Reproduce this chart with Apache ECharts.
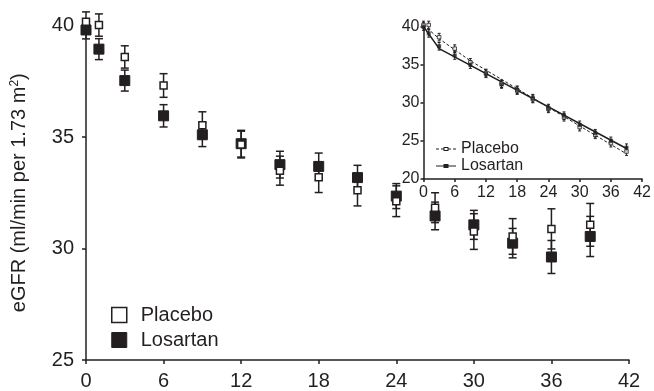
<!DOCTYPE html>
<html>
<head>
<meta charset="utf-8">
<script src="https://cdn.jsdelivr.net/npm/echarts@6/dist/echarts.min.js"></script>
<style>html,body{margin:0;padding:0;background:#fff}#c{width:654px;height:391px}</style>
</head>
<body>
<div id="c"></div>
<script>
// ---- data ----
const months = [0, 1, 3, 6, 9, 12, 15, 18, 21, 24, 27, 30, 33, 36, 39];
const placeboMean = [40.17, 40.02, 38.59, 37.31, 35.53, 34.66, 33.49, 33.19, 32.61, 32.12, 31.83, 30.76, 30.54, 30.88, 31.06];
const placeboErr  = [0.44, 0.5, 0.5, 0.53, 0.6, 0.6, 0.65, 0.68, 0.7, 0.69, 0.67, 0.8, 0.8, 0.9, 0.96];
const losartanMean = [39.8, 38.94, 37.53, 35.95, 35.1, 34.7, 33.76, 33.68, 33.18, 32.35, 31.46, 31.06, 30.24, 29.62, 30.54];
const losartanErr  = [0.4, 0.47, 0.47, 0.5, 0.53, 0.6, 0.6, 0.6, 0.55, 0.56, 0.62, 0.65, 0.66, 0.74, 0.9];

// inset
const insetPlacebo  = [40.2, 40.2, 38.6, 37.1, 35.3, 33.9, 32.5, 31.6, 30.5, 29.2, 28.1, 26.8, 25.8, 24.7, 23.6];
const insetLosartan = [40.0, 39.1, 37.4, 36.2, 35.0, 33.8, 32.4, 31.7, 30.6, 29.3, 28.3, 27.1, 26.0, 25.0, 24.1];
const insetErr = 0.5;
const insetPlaceboFit  = [[0, 40.2], [3, 38.4], [9, 35.5], [39, 23.3]];
const insetLosartanFit = [[0, 40.0], [3, 37.1], [39, 24.0]];

const xTicks = [0, 6, 12, 18, 24, 30, 36, 42];
const mainYTicks = [25, 30, 35, 40];
const insetYTicks = [20, 25, 30, 35, 40];

const INK = '#231f20';
const FONT = 'Liberation Sans, Arial, Helvetica, sans-serif';

function pts(xs, ys) { return xs.map((x, i) => [x, ys[i]]); }
function errData(xs, ys, es) { return xs.map((x, i) => [x, ys[i] - (Array.isArray(es) ? es[i] : es), ys[i] + (Array.isArray(es) ? es[i] : es)]); }

function errSeries(data, xi, yi, cap, lw, z) {
  return {
    type: 'custom', xAxisIndex: xi, yAxisIndex: yi, z: z, silent: true, clip: false,
    data: data,
    renderItem: function (params, api) {
      const x = api.value(0);
      const lo = api.coord([x, api.value(1)]);
      const hi = api.coord([x, api.value(2)]);
      const st = { stroke: INK, lineWidth: lw };
      return {
        type: 'group',
        children: [
          { type: 'line', shape: { x1: lo[0], y1: lo[1], x2: hi[0], y2: hi[1] }, style: st },
          { type: 'line', shape: { x1: lo[0] - cap, y1: lo[1], x2: lo[0] + cap, y2: lo[1] }, style: st },
          { type: 'line', shape: { x1: hi[0] - cap, y1: hi[1], x2: hi[0] + cap, y2: hi[1] }, style: st }
        ]
      };
    }
  };
}

function axisCommon(fontSize, margin, tickLen) {
  return {
    axisLine: { show: true, onZero: false, lineStyle: { color: INK, width: 1.5 } },
    axisTick: { show: true, inside: false, length: tickLen, lineStyle: { color: INK, width: 1.5 } },
    axisLabel: { color: INK, fontSize: fontSize, fontFamily: FONT, margin: margin },
    splitLine: { show: false }
  };
}

const placeboIcon = 'path://M0,2.5h3v1h-3z M5,2.5h2.5v1h-2.5z M7.5,1h5v1h-5z M7.5,4h5v1h-5z M7.5,1h1v4h-1z M11.5,1h1v4h-1z M12.5,2.5h2.5v1h-2.5z M17,2.5h3v1h-3z';
const losartanIcon = 'path://M0,2.5h20v1h-20z M7.5,1h5v4h-5z';

const option = {
  animation: false,
  backgroundColor: '#fff',
  textStyle: { fontFamily: FONT },
  grid: [
    { left: 86, right: 25, top: 25.5, bottom: 28, containLabel: false },
    { left: 423.5, right: 10.5, top: 26.5, bottom: 212, containLabel: false }
  ],
  xAxis: [
    Object.assign({ type: 'value', gridIndex: 0, min: 0, max: 42, interval: 6 }, axisCommon(20, 11, 4)),
    Object.assign({ type: 'value', gridIndex: 1, min: 0, max: 42, interval: 6 }, axisCommon(16, 6, 3))
  ],
  yAxis: [
    Object.assign({ type: 'value', gridIndex: 0, min: 25, max: 40, interval: 5,
      name: 'eGFR (ml/min per 1.73 m{sup|2})', nameLocation: 'middle', nameGap: 56,
      nameTextStyle: { color: INK, fontSize: 20, fontFamily: FONT,
        rich: { sup: { fontSize: 12, verticalAlign: 'top', color: INK, fontFamily: FONT, padding: [0, 0, 9, 0] } } }
    }, axisCommon(20, 12, 4)),
    Object.assign({ type: 'value', gridIndex: 1, min: 20, max: 40, interval: 5 }, axisCommon(16, 4, 3))
  ],
  legend: [
    {
      orient: 'vertical', left: 111, top: 305, padding: 0, itemWidth: 15, itemHeight: 15, itemGap: 5,
      textStyle: { color: INK, fontSize: 20, fontFamily: FONT, padding: [0, 0, 0, 9] }, selectedMode: false,
      data: [
        { name: 'Placebo', icon: 'rect', itemStyle: { color: '#fff', borderColor: INK, borderWidth: 1.5 } },
        { name: 'Losartan', icon: 'rect', itemStyle: { color: INK, borderColor: INK, borderWidth: 1 } }
      ]
    },
    {
      orient: 'vertical', left: 436, top: 141, padding: 0, itemWidth: 20, itemHeight: 4, itemGap: 1,
      textStyle: { color: INK, fontSize: 16, fontFamily: FONT }, selectedMode: false,
      data: [
        { name: 'Placebo', icon: placeboIcon, itemStyle: { color: INK, borderWidth: 0 } },
        { name: 'Losartan', icon: losartanIcon, itemStyle: { color: INK, borderWidth: 0 } }
      ]
    }
  ],
  series: [
    // main chart error bars
    errSeries(errData(months, losartanMean, losartanErr), 0, 0, 4, 1.5, 2),
    errSeries(errData(months, placeboMean, placeboErr), 0, 0, 4, 1.5, 2),
    {
      name: 'Losartan', type: 'scatter', xAxisIndex: 0, yAxisIndex: 0, z: 3, clip: false,
      symbol: 'rect', symbolSize: 10,
      itemStyle: { color: INK, borderColor: INK, borderWidth: 1, opacity: 1 },
      data: pts(months, losartanMean)
    },
    {
      name: 'Placebo', type: 'scatter', xAxisIndex: 0, yAxisIndex: 0, z: 4, clip: false,
      symbol: 'rect', symbolSize: 7,
      itemStyle: { color: '#fff', borderColor: INK, borderWidth: 1.5, opacity: 1 },
      data: pts(months, placeboMean)
    },
    // inset
    {
      name: 'Placebo fit', type: 'line', xAxisIndex: 1, yAxisIndex: 1, z: 2, symbol: 'none',
      lineStyle: { color: INK, width: 1, type: [3, 2] }, data: insetPlaceboFit
    },
    {
      name: 'Losartan fit', type: 'line', xAxisIndex: 1, yAxisIndex: 1, z: 2, symbol: 'none',
      lineStyle: { color: INK, width: 1.5, type: 'solid' }, data: insetLosartanFit
    },
    errSeries(errData(months, insetPlacebo, insetErr), 1, 1, 1.5, 1, 3),
    errSeries(errData(months, insetLosartan, insetErr), 1, 1, 1.5, 1, 3),
    {
      name: 'Placebo inset', type: 'scatter', xAxisIndex: 1, yAxisIndex: 1, z: 4, clip: false,
      symbol: 'rect', symbolSize: 3.5,
      itemStyle: { color: '#fff', borderColor: INK, borderWidth: 1 },
      data: pts(months, insetPlacebo)
    },
    {
      name: 'Losartan inset', type: 'scatter', xAxisIndex: 1, yAxisIndex: 1, z: 4, clip: false,
      symbol: 'rect', symbolSize: 4,
      itemStyle: { color: INK },
      data: pts(months, insetLosartan)
    }
  ]
};

const chart = echarts.init(document.getElementById('c'), null, { renderer: 'canvas' });
chart.setOption(option);
</script>
</body>
</html>
